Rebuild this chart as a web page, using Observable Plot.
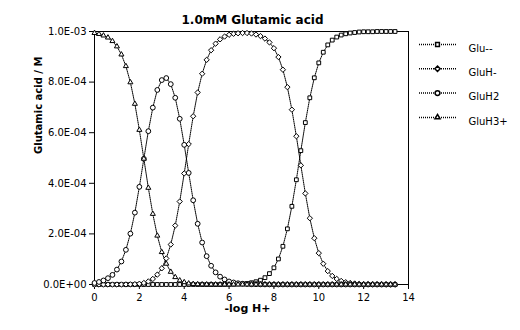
<!DOCTYPE html>
<html><head><meta charset="utf-8">
<script src="https://cdn.jsdelivr.net/npm/d3@7"></script>
<script src="https://cdn.jsdelivr.net/npm/@observablehq/plot@0.6"></script>
<style>html,body{margin:0;padding:0;background:#fff;} svg{display:block}</style>
</head><body><div id="chart"></div>
<script>
const title = "1.0mM Glutamic acid";
const xLabel = "-log H+";
const yLabel = "Glutamic acid / M";
const xTicks = [0, 2, 4, 6, 8, 10, 12, 14];
const yTicks = [0, 2e-4, 4e-4, 6e-4, 8e-4, 1e-3];
const seriesNames = ["Glu--", "GluH-", "GluH2", "GluH3+"];

// -log H+ values
const pH = [0,0.2,0.4,0.6,0.8,1,1.2,1.4,1.6,1.8,
  2,2.2,2.4,2.6,2.8,3,3.2,3.4,3.6,3.8,
  4,4.2,4.4,4.6,4.8,5,5.2,5.4,5.6,5.8,
  6,6.2,6.4,6.6,6.8,7,7.2,7.4,7.6,7.8,
  8,8.2,8.4,8.6,8.8,9,9.2,9.4,9.6,9.8,
  10,10.2,10.4,10.6,10.8,11,11.2,11.4,11.6,11.8,
  12,12.2,12.4,12.6,12.8,13,13.2,13.4];

// concentrations in mM
const glu = [0,0,0,0,0,0,0,0,0,0,
  0,0,0,0,0,0,0,0,0,0,
  0,0,0,0,0,0,0,0,0,0.0004,
  0.0007,0.001,0.002,0.003,0.004,0.007,0.011,0.017,0.027,0.043,
  0.066,0.101,0.151,0.220,0.309,0.414,0.529,0.640,0.738,0.817,
  0.876,0.918,0.947,0.966,0.978,0.986,0.991,0.994,0.996,0.998,
  0.999,0.999,0.999,1,1,1,1,1];
const gluH = [0,0,0,0,0,0,0.0001,0.0003,0.0006,0.0014,
  0.003,0.006,0.012,0.022,0.039,0.064,0.103,0.158,0.233,0.328,
  0.439,0.555,0.665,0.759,0.833,0.888,0.926,0.952,0.969,0.980,
  0.987,0.991,0.993,0.994,0.994,0.992,0.988,0.982,0.972,0.957,
  0.934,0.899,0.849,0.780,0.691,0.586,0.471,0.360,0.262,0.183,
  0.124,0.082,0.053,0.034,0.022,0.014,0.009,0.006,0.004,0.002,
  0.001,0.001,0.0006,0.0004,0.0002,0.0001,0.0001,0.0001];
const gluH2 = [0.006,0.010,0.016,0.025,0.038,0.059,0.091,0.137,0.201,0.284,
  0.386,0.497,0.606,0.699,0.769,0.808,0.816,0.792,0.738,0.655,
  0.552,0.441,0.333,0.240,0.166,0.112,0.074,0.048,0.031,0.020,
  0.012,0.008,0.005,0.003,0.002,0.001,0.001,0.0005,0.0003,0.0002,
  0.0001,0,0,0,0,0,0,0,0,0,
  0,0,0,0,0,0,0,0,0,0,
  0,0,0,0,0,0,0,0];
const gluH3 = [0.994,0.990,0.984,0.976,0.962,0.941,0.909,0.863,0.799,0.714,
  0.611,0.497,0.382,0.279,0.193,0.128,0.082,0.050,0.029,0.016,
  0.009,0.004,0.002,0.001,0.0004,0.0002,0.0001,0,0,0,
  0,0,0,0,0,0,0,0,0,0,
  0,0,0,0,0,0,0,0,0,0,
  0,0,0,0,0,0,0,0,0,0,
  0,0,0,0,0,0,0,0];

const seriesValues = [glu, gluH, gluH2, gluH3];
const symbols = ["square2", "diamond2", "circle", "triangle2"];

const rows = [];
seriesNames.forEach((name, s) => {
  pH.forEach((p, i) => rows.push({pH: p, conc: seriesValues[s][i] * 1e-3, species: name}));
});

const fmt = d => {
  const [m, e] = d.toExponential(1).split("e");
  const sign = e[0] === "-" ? "-" : "+";
  const num = e.replace(/^[+-]/, "").padStart(2, "0");
  return `${m}E${sign}${num}`;
};

const legendLine = {draw(ctx) { ctx.moveTo(-18.5, 0); ctx.lineTo(18.5, 0); }};
const legendMarks = seriesNames.flatMap((name, i) => {
  const dy = 13 + i * 24.3;
  return [
    Plot.dot([name], {frameAnchor: "top-right", dx: 29, dy, symbol: legendLine, r: 3, stroke: "black", fill: "none", strokeDasharray: "1,1"}),
    Plot.dot([name], {frameAnchor: "top-right", dx: 29, dy, symbol: symbols[i], r: 2.4, stroke: "black", fill: "white"}),
    Plot.text([name], {frameAnchor: "top-right", dx: 60, dy, text: d => d, textAnchor: "start", fontSize: 10})
  ];
});

const chart = Plot.plot({
  width: 520,
  height: 330,
  marginLeft: 94,
  marginRight: 112,
  marginTop: 31,
  marginBottom: 46,
  style: {fontFamily: "DejaVu Sans", fontSize: "10px", color: "black", background: "white"},
  x: {domain: [0, 14], ticks: xTicks, tickSize: 5, tickPadding: 4, label: null},
  y: {domain: [0, 1e-3], ticks: yTicks, tickFormat: fmt, tickSize: 5, tickPadding: 3, label: null},
  symbol: {domain: seriesNames, range: symbols},
  marks: [
    Plot.frame({stroke: "black"}),
    Plot.line(rows, {x: "pH", y: "conc", z: "species", stroke: "black", strokeWidth: 1, strokeDasharray: "1,1"}),
    Plot.dot(rows, {x: "pH", y: "conc", symbol: "species", r: 2.4, stroke: "black", fill: "white", strokeWidth: 1}),
    Plot.text([title], {frameAnchor: "top", dy: -16, dx: 1, text: d => d, fontWeight: "bold", fontSize: 12, letterSpacing: "0.6px"}),
    Plot.text([yLabel], {frameAnchor: "left", dx: -56, dy: -4, rotate: -90, text: d => d, fontWeight: "bold", fontSize: 10, letterSpacing: "0.3px"}),
    Plot.text([xLabel], {frameAnchor: "bottom", dx: -4, dy: 27, text: d => d, fontWeight: "bold", fontSize: 11, letterSpacing: "0.6px"}),
    ...legendMarks
  ]
});
document.getElementById("chart").append(chart);
</script>
</body></html>
